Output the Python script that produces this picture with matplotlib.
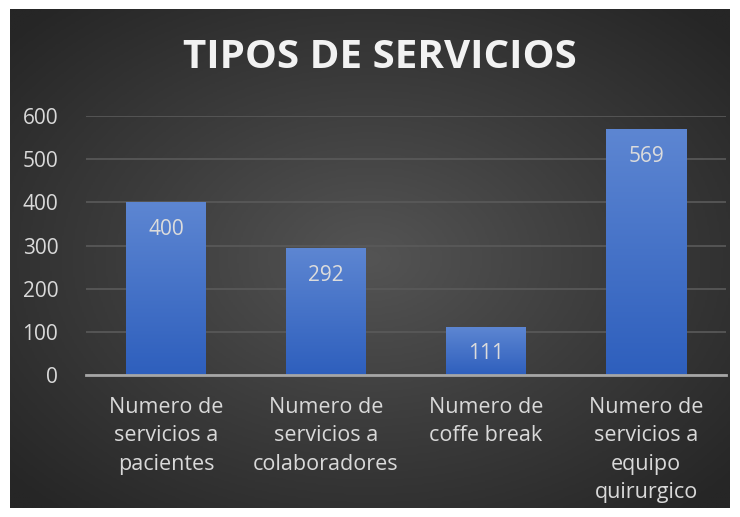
import matplotlib.pyplot as plt
import matplotlib.colors as mcolors
import numpy as np

plt.rcParams['font.family'] = ['Open Sans', 'DejaVu Sans']

categories = ["Numero de\nservicios a\npacientes",
              "Numero de\nservicios a\ncolaboradores",
              "Numero de\ncoffe break",
              "Numero de\nservicios a\nequipo\nquirurgico"]
values = [400, 292, 111, 569]
yticks = [0, 100, 200, 300, 400, 500, 600]

fig = plt.figure(figsize=(7.4, 5.17), dpi=100)
fig.patch.set_facecolor('white')

# dark panel with radial gradient
bg = fig.add_axes([10 / 740, 9 / 517, 720 / 740, 499 / 517])
bg.set_axis_off()
yy, xx = np.mgrid[-1:1:300j, -1:1:400j]
r = np.sqrt(xx ** 2 + yy ** 2)
r = np.clip(r / 1.35, 0, 1)
bg_cmap = mcolors.LinearSegmentedColormap.from_list('bg', ['#545454', '#3c3c3c', '#262626'])
bg.imshow(r, cmap=bg_cmap, aspect='auto', extent=[0, 1, 0, 1], vmin=0, vmax=1)
bg.set_xlim(0, 1)
bg.set_ylim(0, 1)

ax = fig.add_axes([86 / 740, 142 / 517, 640 / 740, 259 / 517])
ax.patch.set_alpha(0)
x = np.arange(len(values))
bars = ax.bar(x, values, width=0.5, color='none', zorder=3)

bar_cmap = mcolors.LinearSegmentedColormap.from_list('bar', ['#2e5fbd', '#5d86d2'])
grad = np.linspace(0, 1, 256).reshape(-1, 1)
for b in bars:
    x0, w, h = b.get_x(), b.get_width(), b.get_height()
    ax.imshow(grad, cmap=bar_cmap, origin='lower', aspect='auto',
              extent=[x0, x0 + w, 0, h], zorder=3)
    ax.text(x0 + w / 2, h - 62, str(int(h)), ha='center', va='center',
            color='#dcdcdc', fontsize=15, zorder=4)

ax.set_xlim(-0.5, len(values) - 0.5)
ax.set_ylim(0, 600)
ax.set_yticks(yticks)
ax.yaxis.grid(True, color='#5a5a5a', linewidth=1.2, zorder=0)
ax.set_axisbelow(True)
for s in ['top', 'right', 'left']:
    ax.spines[s].set_visible(False)
ax.spines['bottom'].set_color('#a6a6a6')
ax.spines['bottom'].set_linewidth(2)
ax.spines['bottom'].set_zorder(5)
ax.tick_params(axis='both', length=0, colors='#d9d9d9', labelsize=15)
ax.tick_params(axis='y', pad=20)
ax.tick_params(axis='x', pad=16)
ax.set_xticks(x, categories, linespacing=1.45, va='top')
for lbl in ax.get_xticklabels():
    lbl.set_fontsize(15.5)

fig.text(0.514, 0.888, "TIPOS DE SERVICIOS",
         ha='center', va='center', color='#f2f2f2', fontsize=29, fontweight='bold')

plt.savefig("out.png", dpi=100)
